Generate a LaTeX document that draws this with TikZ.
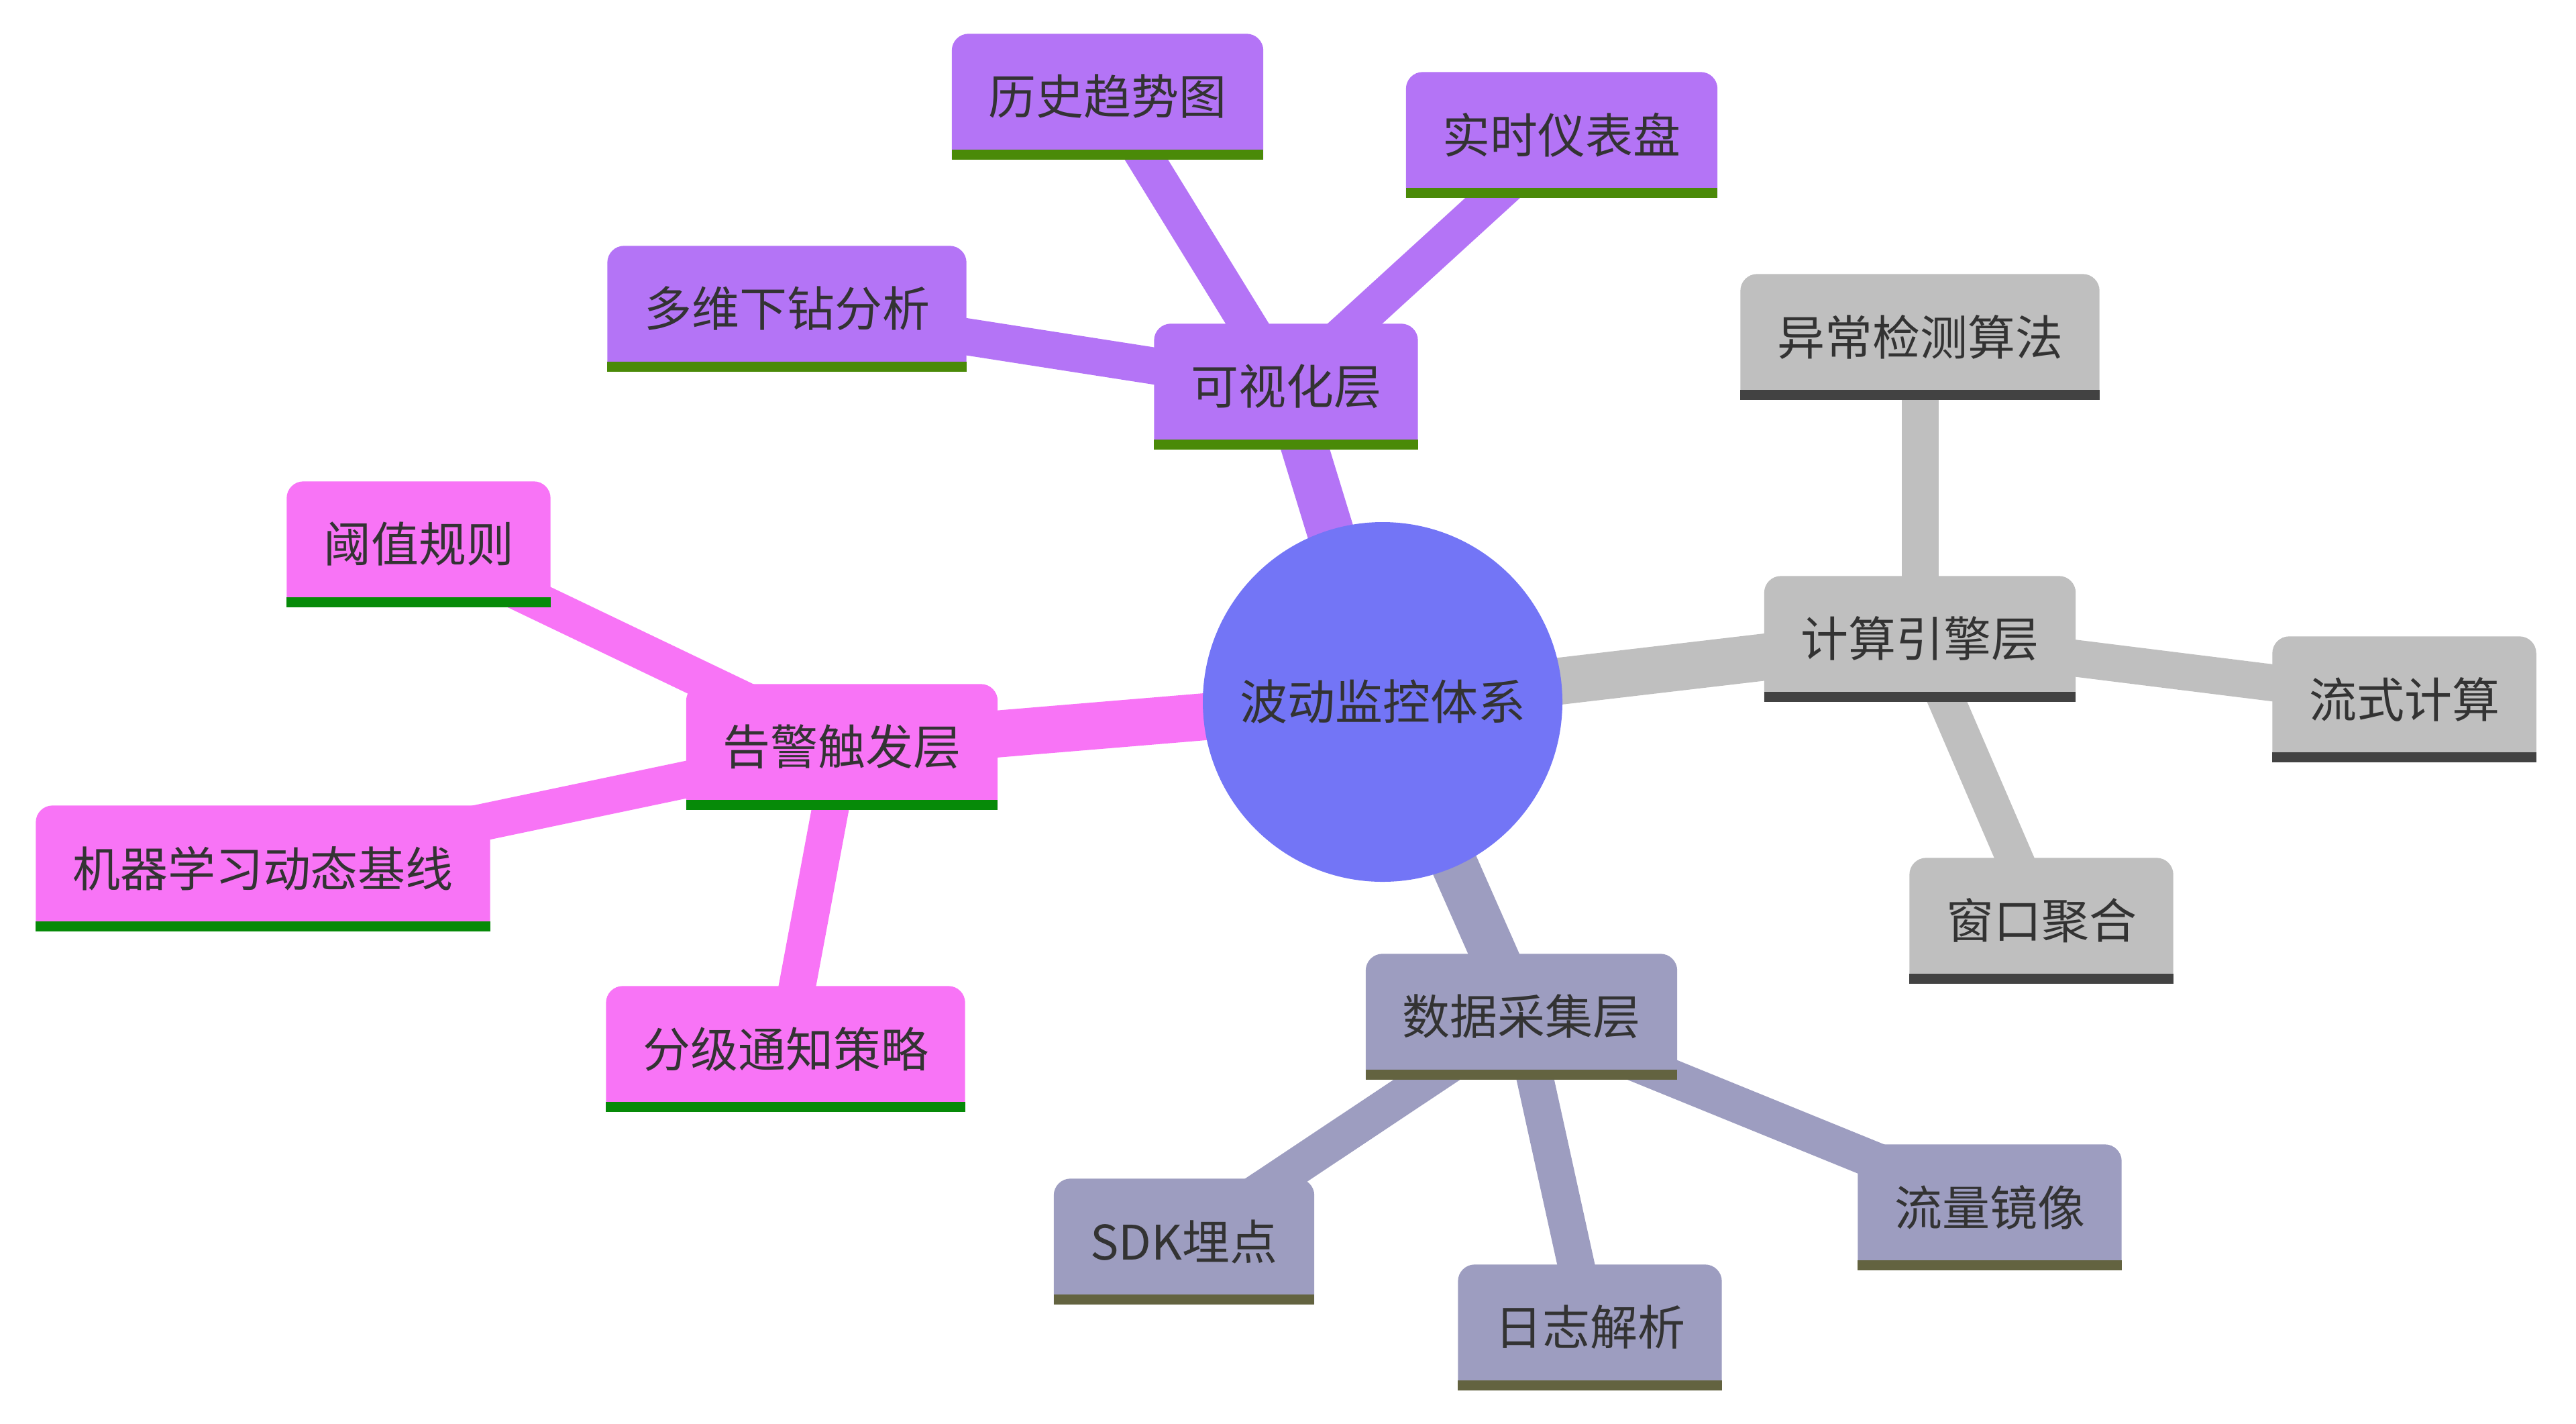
\documentclass[tikz,border=0pt]{standalone}
\usepackage{fontspec}
\setmainfont{Noto Sans CJK SC}
\usetikzlibrary{calc}
\pgfdeclarelayer{edges}
\pgfdeclarelayer{boxes}
\pgfsetlayers{edges,boxes,main}

\definecolor{cRoot}{HTML}{7375F6}
\definecolor{cVis}{HTML}{B474F6}
\definecolor{bVis}{HTML}{4A8A08}
\definecolor{cComp}{HTML}{BFBFBF}
\definecolor{bComp}{HTML}{424242}
\definecolor{cAlert}{HTML}{F874F6}
\definecolor{bAlert}{HTML}{068A08}
\definecolor{cColl}{HTML}{9D9DC0}
\definecolor{bColl}{HTML}{636340}
\definecolor{txt}{HTML}{333333}

\newcommand{\mmbox}[3]{%
  \fill[#2] (#1.south west) -- ([yshift=-0.25cm]#1.north west)
    arc[start angle=180,end angle=90,radius=0.25cm]
    -- ([xshift=-0.25cm]#1.north east)
    arc[start angle=90,end angle=0,radius=0.25cm]
    -- (#1.south east) -- cycle;
  \fill[#3] (#1.south west) rectangle ([yshift=0.15cm]#1.south east);}

\tikzset{
  lbl/.style={text=txt, font=\fontsize{20.2pt}{24pt}\selectfont,
    inner xsep=0.54cm, inner ysep=0pt, minimum height=1.86cm},
  rootnode/.style={circle, fill=cRoot, text=txt, inner sep=0pt,
    minimum size=5.36cm, font=\fontsize{20.2pt}{24pt}\selectfont},
  trunk/.style={line width=0.7cm, draw=#1},
  twig/.style={line width=0.55cm, draw=#1},
}

\begin{document}
\begin{tikzpicture}
\useasboundingbox (0,0) rectangle (38.4,-21.21);

\node[rootnode] (root) at (20.61,-10.46) {波动监控体系};

\node[lbl] (vis)   at (19.17,-5.76) {可视化层};
\node[lbl] (hist)  at (16.51,-1.44) {历史趋势图};
\node[lbl] (rt)    at (23.28,-2.01) {实时仪表盘};
\node[lbl] (drill) at (11.73,-4.60) {多维下钻分析};

\node[lbl] (comp)   at (28.62,-9.52)  {计算引擎层};
\node[lbl] (anom)   at (28.62,-5.02)  {异常检测算法};
\node[lbl] (stream) at (35.84,-10.42) {流式计算};
\node[lbl] (win)    at (30.43,-13.72) {窗口聚合};

\node[lbl] (alert)  at (12.55,-11.13) {告警触发层};
\node[lbl] (thr)    at (6.24,-8.11)   {阈值规则};
\node[lbl] (ml)     at (3.92,-12.94)  {机器学习动态基线};
\node[lbl] (notify) at (11.71,-15.63) {分级通知策略};

\node[lbl] (coll)   at (22.68,-15.15) {数据采集层};
\node[lbl] (sdk)    at (17.65,-18.50) {SDK埋点};
\node[lbl] (log)    at (23.70,-19.78) {日志解析};
\node[lbl] (mirror) at (29.66,-17.99) {流量镜像};

\begin{pgfonlayer}{boxes}
  \mmbox{vis}{cVis}{bVis}
  \mmbox{hist}{cVis}{bVis}
  \mmbox{rt}{cVis}{bVis}
  \mmbox{drill}{cVis}{bVis}
  \mmbox{comp}{cComp}{bComp}
  \mmbox{anom}{cComp}{bComp}
  \mmbox{stream}{cComp}{bComp}
  \mmbox{win}{cComp}{bComp}
  \mmbox{alert}{cAlert}{bAlert}
  \mmbox{thr}{cAlert}{bAlert}
  \mmbox{ml}{cAlert}{bAlert}
  \mmbox{notify}{cAlert}{bAlert}
  \mmbox{coll}{cColl}{bColl}
  \mmbox{sdk}{cColl}{bColl}
  \mmbox{log}{cColl}{bColl}
  \mmbox{mirror}{cColl}{bColl}
\end{pgfonlayer}

\begin{pgfonlayer}{edges}
  \draw[trunk=cVis]   (root.center) -- (vis.center);
  \draw[trunk=cComp]  (root.center) -- (comp.center);
  \draw[trunk=cAlert] (root.center) -- (alert.center);
  \draw[trunk=cColl]  (root.center) -- (coll.center);
  \draw[twig=cVis] (vis.center) -- (hist.center);
  \draw[twig=cVis] (vis.center) -- (rt.center);
  \draw[twig=cVis] (vis.center) -- (drill.center);
  \draw[twig=cComp] (comp.center) -- (anom.center);
  \draw[twig=cComp] (comp.center) -- (stream.center);
  \draw[twig=cComp] (comp.center) -- (win.center);
  \draw[twig=cAlert] (alert.center) -- (thr.center);
  \draw[twig=cAlert] (alert.center) -- (ml.center);
  \draw[twig=cAlert] (alert.center) -- (notify.center);
  \draw[twig=cColl] (coll.center) -- (sdk.center);
  \draw[twig=cColl] (coll.center) -- (log.center);
  \draw[twig=cColl] (coll.center) -- (mirror.center);
\end{pgfonlayer}
\end{tikzpicture}
\end{document}
